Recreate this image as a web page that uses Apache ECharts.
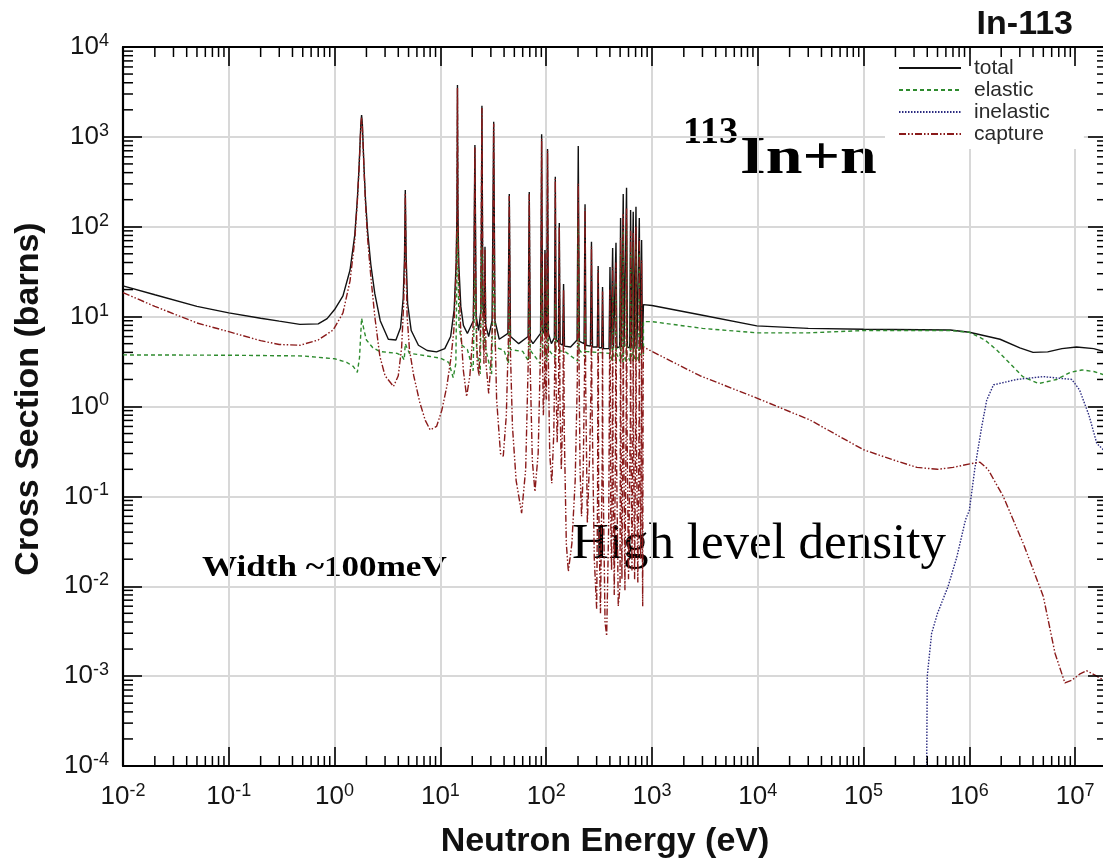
<!DOCTYPE html>
<html>
<head>
<meta charset="utf-8">
<script src="https://cdn.jsdelivr.net/npm/echarts@6/dist/echarts.min.js"></script>
<style>
  html, body { margin: 0; padding: 0; background: #ffffff; overflow: hidden; }
  #chart { width: 1103px; height: 863px; }
</style>
</head>
<body>
<div id="chart"></div>
<script>
// In-113 neutron cross sections, [energy (eV), cross section (barns)]
const seriesNames = ['total', 'elastic', 'inelastic', 'capture'];

const total = [
  [0.01, 22], [0.02, 17.5], [0.05, 13], [0.1, 11], [0.2, 9.6], [0.3, 8.9], [0.47, 8.2], [0.7, 8.3],
  [0.85, 9.5], [1.0, 12], [1.2, 17], [1.4, 33], [1.55, 80], [1.64, 200], [1.7, 440], [1.74, 840],
  [1.77, 1380], [1.8, 1750], [1.83, 1380], [1.86, 840], [1.9, 440], [1.96, 200], [2.05, 90],
  [2.2, 38], [2.4, 18], [2.7, 9], [3.22, 5.6], [3.8, 5.5], [4.2, 7.5], [4.45, 16], [4.58, 45],
  [4.66, 256], [4.75, 45], [4.9, 14], [5.3, 7], [6.2, 4.8], [7.5, 4.2], [9.2, 4.05], [11, 4.4],
  [12.5, 6], [13.5, 12], [14.1, 40], [14.35, 150], [14.5, 3780], [14.65, 150], [14.9, 40],
  [15.6, 13], [16.5, 8], [18, 6.5],
  [20.5, 9], [21.2, 813], [21.8, 10], [23, 7], [24.2, 12], [24.7, 2220], [25.2, 14],
  [26, 9], [26.4, 60], [26.8, 8], [28.6, 6], [30.8, 9], [31.9, 1475], [32.8, 9], [36, 5.6],
  [43.5, 6.5], [44.8, 232], [46, 6], [55, 5], [67.5, 6], [69.2, 244], [70.8, 5.6], [75, 5], [78, 4.9],
  [88.5, 6.5], [90.6, 1069], [92.5, 7], [96, 6.5], [97.4, 55], [99, 6.3], [101.5, 7], [103, 733],
  [105, 6.5], [112, 5], [119.5, 5.8], [122, 361], [124.5, 5.5], [130.5, 5.2], [133, 110], [135.5, 5],
  [143, 4.8], [146, 23], [149, 4.7], [170, 4.6], [196, 5.5], [201, 793], [206, 5.3],
  [228, 5], [233, 178], [238, 4.8], [262, 4.7], [268, 68], [274, 4.6], [304, 4.6], [310, 36.6],
  [316, 4.5], [335, 4.5], [341, 21.4], [348, 4.4], [393, 4.4], [401, 35.7], [409, 4.4], [417, 4.5],
  [425, 58], [433, 4.5], [448, 4.5], [457, 66.5], [466, 4.5], [495, 4.6], [505, 125], [515, 4.6],
  [525, 4.6], [535, 232], [545, 4.6], [564, 4.5], [575, 272], [586, 4.6], [616, 4.5], [628, 154],
  [640, 4.5], [652, 4.4], [665, 147], [678, 4.4], [692, 4.4], [706, 167], [720, 4.4], [745, 4.3],
  [759, 125], [773, 4.3], [785, 4.3], [798, 71], [812, 4.3], [830, 4.3],
  [830, 13.6], [1000, 13.3], [2840, 10.5], [9800, 7.9], [3e4, 7.4], [1e5, 7.24], [6.6e5, 7.1],
  [1e6, 6.7], [1.95e6, 5.6], [3e6, 4.5], [4e6, 4.0], [5.5e6, 4.05], [7.5e6, 4.4], [1.03e7, 4.6],
  [1.5e7, 4.4], [2e7, 4.0]
];

const elastic = [
  [0.01, 3.75], [0.1, 3.72], [0.5, 3.65], [1.0, 3.4], [1.3, 3.1], [1.5, 2.8], [1.64, 2.4], [1.72, 3.5],
  [1.8, 9.6], [1.9, 7], [2.0, 5.5], [2.3, 4.5], [2.67, 4.1], [3.2, 4.0], [3.9, 3.9], [4.3, 3.7],
  [4.55, 3.3], [4.66, 5], [4.8, 4.6], [5.1, 3.9], [6, 3.8], [8, 3.6], [10, 3.45], [12, 3.1],
  [13.2, 2.1], [14, 3], [14.5, 100], [15, 8], [16, 4.8], [18, 4.3], [20.4, 2.5], [21.2, 30],
  [22, 4.5], [23.8, 2.3], [24.7, 60], [25.5, 4.5], [26.4, 6], [27, 4.2], [30.5, 2.3], [31.9, 50],
  [33, 4.6], [40, 4.2], [44, 3], [44.8, 12], [46, 4.3], [60, 4.1], [68, 3.2], [69.2, 12], [71, 4.2],
  [88, 3], [90.6, 35], [93, 4.4], [102, 3.2], [103, 25], [105, 4.3], [121, 3.5], [122, 14],
  [124, 4.2], [150, 4.1], [199, 3.2], [201, 120], [204, 4.3], [232, 3.6], [233, 12], [235, 4.1],
  [300, 4], [400, 3.9], [421, 3.2], [425, 22], [429, 3.9], [453, 3.2], [457, 25], [461, 3.9],
  [500, 3.2], [505, 50], [510, 3.9], [530, 3.1], [535, 90], [540, 3.8], [570, 3.1], [575, 110],
  [580, 3.8], [622, 3.2], [628, 60], [634, 3.8], [659, 3.2], [665, 60], [671, 3.8], [700, 3.2],
  [706, 65], [712, 3.8], [752, 3.2], [759, 50], [766, 3.8], [830, 3.7],
  [830, 8.8], [1000, 8.8], [3000, 7.4], [9800, 6.6], [3e4, 6.6], [1e5, 7.0], [6.6e5, 7.0],
  [1e6, 6.7], [1.4e6, 5.5], [1.81e6, 4.27], [2.5e6, 2.9], [3.2e6, 2.15], [4.5e6, 1.8], [6.7e6, 2.0],
  [9e6, 2.4], [1.16e7, 2.55], [1.5e7, 2.45], [2e7, 2.2]
];

const inelastic = [
  [3.95e5, 1e-4], [4.0e5, 1e-3], [4.4e5, 3e-3], [5.0e5, 5e-3], [6.3e5, 0.01], [7.6e5, 0.021],
  [9.2e5, 0.055], [1.0e6, 0.07], [1.13e6, 0.21], [1.31e6, 0.6], [1.46e6, 1.18], [1.69e6, 1.74],
  [2.8e6, 2.0], [5.0e6, 2.15], [9.3e6, 2.0], [1.1e7, 1.53], [1.35e7, 0.8], [1.6e7, 0.39], [2e7, 0.3]
];

const capture = [
  [0.01, 18.5], [0.02, 13], [0.05, 8.5], [0.1, 6.8], [0.2, 5.4], [0.3, 4.9], [0.47, 4.8], [0.7, 5.5],
  [0.97, 7.1], [1.2, 11], [1.4, 25], [1.55, 70], [1.64, 190], [1.7, 420], [1.74, 800], [1.77, 1300],
  [1.8, 1650], [1.83, 1300], [1.86, 800], [1.9, 410], [1.96, 180], [2.05, 75], [2.2, 28], [2.4, 10],
  [2.68, 3.6], [3.0, 2.2], [3.6, 1.67], [4.0, 2.2], [4.3, 4.5], [4.5, 14], [4.6, 40], [4.66, 235],
  [4.73, 40], [4.85, 10], [5.1, 4.3], [5.6, 2.2], [6.4, 1.1], [7.2, 0.7], [8.0, 0.55], [9.2, 0.6],
  [10.3, 0.9], [11.5, 1.67], [12.6, 3.5], [13.4, 7], [14.1, 35], [14.35, 140], [14.5, 3500],
  [14.65, 140], [14.9, 30], [15.5, 8], [16.5, 2.5], [17.7, 1.29], [19, 2.2], [20.2, 6], [20.8, 20],
  [21.2, 760], [21.6, 20], [22.3, 3], [23.2, 2.2], [24, 8], [24.7, 2100], [25.3, 8], [25.8, 3],
  [26.4, 55], [27, 3], [28.6, 1.4], [30, 3], [31.2, 10], [31.9, 1400], [32.7, 9], [34, 1.2],
  [37, 0.3], [39.3, 0.28], [42, 0.8], [44, 6], [44.8, 220], [45.7, 5], [48, 0.6], [52, 0.15],
  [58.6, 0.065], [64, 0.2], [68, 4], [69.2, 230], [70.5, 3], [74, 0.25], [78.3, 0.113], [84, 0.3],
  [89, 6], [90.6, 950], [92, 5], [94, 0.8], [96.5, 2], [97.4, 50], [98.5, 1.5], [100.5, 1.2],
  [103, 700], [105, 3], [108, 0.3], [113, 0.14], [118, 0.5], [121, 4], [122, 340], [123, 3],
  [127, 0.4], [131, 1.5], [133, 100], [135, 1.2], [139, 0.2], [144, 1], [146, 20], [148, 0.6],
  [155, 0.03], [162, 0.0146], [175, 0.03], [188, 0.15], [197, 2], [201, 300], [205, 2], [209, 0.2],
  [216, 0.06], [224, 0.2], [231, 3], [233, 160], [236, 2], [245, 0.05], [258, 0.3], [266, 2],
  [268, 60], [270, 1.5], [285, 0.02], [300, 0.0056], [306, 0.1], [310, 33], [313, 0.1],
  [326, 0.005], [339, 0.3], [341, 19], [343, 0.3], [360, 0.004], [373, 0.0028], [390, 0.05],
  [401, 20], [408, 0.05], [415, 0.015], [422, 0.3], [425, 35], [429, 0.2], [440, 0.008], [452, 0.4],
  [457, 40], [462, 0.3], [480, 0.006], [499, 0.01], [503, 1], [505, 75], [508, 0.8], [520, 0.012],
  [532, 1], [535, 140], [538, 1], [555, 0.009], [571, 1], [575, 160], [580, 0.8], [600, 0.012],
  [625, 0.8], [628, 90], [632, 0.6], [647, 0.015], [662, 1], [665, 85], [668, 0.8], [685, 0.012],
  [703, 1], [706, 100], [710, 0.8], [735, 0.011], [756, 0.9], [759, 75], [763, 0.6], [780, 0.02],
  [795, 0.8], [798, 42], [802, 0.4], [817, 0.006], [825, 2], [830, 4.6],
  [1000, 4.1], [2840, 2.2], [9800, 1.24], [3.1e4, 0.71], [1e5, 0.33], [2e5, 0.25], [3.2e5, 0.21],
  [5e5, 0.2], [7e5, 0.21], [1.01e6, 0.23], [1.26e6, 0.24], [1.5e6, 0.2], [2.09e6, 0.1],
  [3.23e6, 0.03], [5e6, 0.0077], [6.45e6, 0.0018], [8e6, 0.00084], [9.3e6, 0.0009],
  [1.1e7, 0.00105], [1.28e7, 0.00115], [1.6e7, 0.001], [2e7, 0.00085]
];

// axis ranges and decade ticks
const xMin = 0.01, xMax = 2e7;
const yMin = 1e-4, yMax = 1e4;
const xDecades = [-2, -1, 0, 1, 2, 3, 4, 5, 6, 7];
const yDecades = [-4, -3, -2, -1, 0, 1, 2, 3];
const minorSteps = [2, 3, 4, 5, 6, 7, 8, 9];

const xMinorTicks = [];
xDecades.forEach(function (e) {
  minorSteps.forEach(function (m) {
    const v = m * Math.pow(10, e);
    if (v > xMin && v < xMax) xMinorTicks.push([v, yMin]);
  });
});
const yMinorTicks = [];
yDecades.forEach(function (e) {
  minorSteps.forEach(function (m) {
    yMinorTicks.push([xMin, m * Math.pow(10, e)]);
  });
});

const SANS = '"Liberation Sans", Arial, Helvetica, sans-serif';
const SERIF = '"Liberation Serif", "Times New Roman", serif';
const MINOR_LEN = 10;
const MAJOR_LEN = 19;

function powerLabel(v) {
  const e = Math.log10(v);
  const r = Math.round(e);
  if (Math.abs(e - r) > 1e-6) return '';
  return '{b|10}{s|' + r + '}';
}
const labelRich = {
  b: { fontFamily: SANS, fontSize: 26, color: '#151515', lineHeight: 30 },
  s: { fontFamily: SANS, fontSize: 18, color: '#151515', verticalAlign: 'top', lineHeight: 18 }
};

const tickLine = { color: '#000', width: 1.6 };
const spine = { color: '#000', width: 2.2 };

function minorTickX(params, api) {
  const v = api.value(0);
  const a = api.coord([v, yMin]);
  const b = api.coord([v, yMax]);
  return {
    type: 'group',
    children: [
      { type: 'line', shape: { x1: a[0], y1: a[1], x2: a[0], y2: a[1] - MINOR_LEN }, style: { stroke: '#000', lineWidth: 1.5 } },
      { type: 'line', shape: { x1: b[0], y1: b[1], x2: b[0], y2: b[1] + MINOR_LEN }, style: { stroke: '#000', lineWidth: 1.5 } }
    ]
  };
}
function minorTickY(params, api) {
  const v = api.value(1);
  const a = api.coord([xMin, v]);
  const b = api.coord([xMax, v]);
  return {
    type: 'group',
    children: [
      { type: 'line', shape: { x1: a[0], y1: a[1], x2: a[0] + MINOR_LEN, y2: a[1] }, style: { stroke: '#000', lineWidth: 1.5 } },
      { type: 'line', shape: { x1: b[0], y1: b[1], x2: b[0] - MINOR_LEN, y2: b[1] }, style: { stroke: '#000', lineWidth: 1.5 } }
    ]
  };
}

function lineSeries(name, data, color, dash) {
  return {
    name: name,
    type: 'line',
    data: data,
    symbol: 'none',
    showSymbol: false,
    z: 3,
    lineStyle: { color: color, width: 1.4, type: dash },
    itemStyle: { color: color },
    emphasis: { disabled: true }
  };
}

const chart = echarts.init(document.getElementById('chart'), null, { renderer: 'canvas' });
chart.setOption({
  animation: false,
  backgroundColor: '#ffffff',
  grid: { left: 123, top: 47, width: 984, height: 719, containLabel: false, outerBoundsMode: 'none' },
  legend: {
    data: seriesNames,
    orient: 'vertical',
    left: 885,
    top: 54,
    padding: [3, 34, 4, 13],
    itemWidth: 62,
    itemHeight: 14,
    itemGap: 0,
    backgroundColor: '#ffffff',
    itemStyle: { opacity: 0, borderWidth: 0 },
    textStyle: { fontFamily: SANS, fontSize: 21, lineHeight: 22, color: '#2a2a2a', padding: [0, 0, 0, 8] }
  },
  xAxis: [
    {
      type: 'log', logBase: 10, min: xMin, max: xMax, position: 'bottom',
      axisLine: { lineStyle: spine },
      axisTick: { inside: true, length: MAJOR_LEN, lineStyle: tickLine },
      splitLine: { show: true, lineStyle: { color: '#d8d8d8', width: 2 } },
      axisLabel: { formatter: powerLabel, rich: labelRich, margin: 16, hideOverlap: false }
    },
    {
      type: 'log', logBase: 10, min: xMin, max: xMax, position: 'top', z: 10,
      axisLine: { lineStyle: spine },
      axisTick: { inside: true, length: MAJOR_LEN, lineStyle: tickLine },
      splitLine: { show: false },
      axisLabel: { show: false }
    }
  ],
  yAxis: [
    {
      type: 'log', logBase: 10, min: yMin, max: yMax, position: 'left',
      axisLine: { lineStyle: spine },
      axisTick: { inside: true, length: MAJOR_LEN, lineStyle: tickLine },
      splitLine: { show: true, lineStyle: { color: '#d8d8d8', width: 2 } },
      axisLabel: { formatter: powerLabel, rich: labelRich, margin: 14, hideOverlap: false }
    },
    {
      type: 'log', logBase: 10, min: yMin, max: yMax, position: 'right', z: 10,
      axisLine: { lineStyle: spine },
      axisTick: { inside: true, length: MAJOR_LEN, lineStyle: tickLine },
      splitLine: { show: false },
      axisLabel: { show: false }
    }
  ],
  series: [
    lineSeries('total', total, '#111111', 'solid'),
    lineSeries('elastic', elastic, '#2e8b2e', [4, 3]),
    lineSeries('inelastic', inelastic, '#2b2b80', [1.5, 1.5]),
    lineSeries('capture', capture, '#8a1a1a', [7, 2, 1.5, 2, 1.5, 2]),
    {
      name: 'x-minor', type: 'custom', data: xMinorTicks, renderItem: minorTickX,
      xAxisIndex: 0, yAxisIndex: 0, silent: true, clip: false, z: 20
    },
    {
      name: 'y-minor', type: 'custom', data: yMinorTicks, renderItem: minorTickY,
      xAxisIndex: 0, yAxisIndex: 0, silent: true, clip: false, z: 20
    }
  ],
  graphic: [
    { type: 'text', x: 1073, y: 25, style: { text: 'In-113', fontFamily: SANS, fontWeight: 'bold', fontSize: 34, fill: '#111', textAlign: 'right', textVerticalAlign: 'middle' } },
    { type: 'text', x: 605, y: 842, style: { text: 'Neutron Energy (eV)', fontFamily: SANS, fontWeight: 'bold', fontSize: 34, fill: '#111', textAlign: 'center', textVerticalAlign: 'middle' } },
    { type: 'text', x: 29, y: 399, rotation: Math.PI / 2, style: { text: 'Cross Section (barns)', fontFamily: SANS, fontWeight: 'bold', fontSize: 34, fill: '#111', textAlign: 'center', textVerticalAlign: 'middle' } },
    { type: 'text', x: 683, y: 133, style: { text: '113', fontFamily: SERIF, fontWeight: 'bold', fontSize: 38, fill: '#000', textAlign: 'left', textVerticalAlign: 'middle' } },
    { type: 'text', x: 740, y: 160, scaleX: 1.27, style: { text: 'In+n', fontFamily: SERIF, fontWeight: 'bold', fontSize: 52, fill: '#000', textAlign: 'left', textVerticalAlign: 'middle' } },
    { type: 'text', x: 202, y: 568, scaleX: 1.17, style: { text: 'Width ~100meV', fontFamily: SERIF, fontWeight: 'bold', fontSize: 30, fill: '#000', textAlign: 'left', textVerticalAlign: 'middle' } },
    { type: 'text', x: 572, y: 545, style: { text: 'High level density', fontFamily: SERIF, fontSize: 51, fill: '#000', textAlign: 'left', textVerticalAlign: 'middle' } }
  ]
});
</script>
</body>
</html>
